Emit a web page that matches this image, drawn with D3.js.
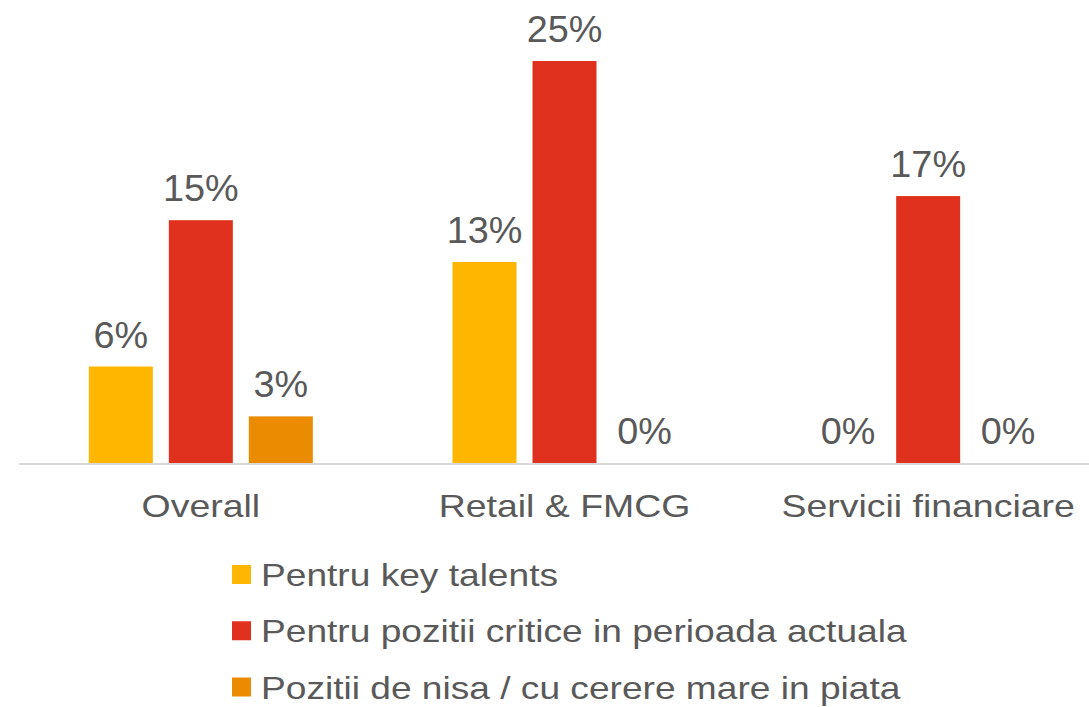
<!DOCTYPE html>
<html>
<head>
<meta charset="utf-8">
<script src="https://cdn.jsdelivr.net/npm/d3@7"></script>
<style>
  html, body { margin: 0; padding: 0; background: #ffffff; }
  svg { display: block; }
  text { font-family: "Liberation Sans", Arial, sans-serif; fill: #595959; }
</style>
</head>
<body>
<svg id="chart" width="1089" height="707"></svg>
<script>
// ---- data ----
const categories = ["Overall", "Retail & FMCG", "Servicii financiare"];
const seriesNames = [
  "Pentru key talents",
  "Pentru pozitii critice in perioada actuala",
  "Pozitii de nisa / cu cerere mare in piata"
];
const keyTalents = [6.0, 12.5, 0];
const pozitiiCritice = [15.1, 25.0, 16.6];
const pozitiiNisa = [2.9, 0, 0];
const seriesColors = ["#FFB600", "#E0301E", "#EB8C00"];

const seriesValues = [keyTalents, pozitiiCritice, pozitiiNisa];
const rows = [];
categories.forEach((c, ci) => {
  seriesValues.forEach((vals, si) => {
    rows.push({ category: c, series: seriesNames[si], si, value: vals[ci] });
  });
});

// ---- layout ----
const svg = d3.select("#chart");
const baseline = 463;
const groupW = 224;

const x0 = d3.scaleBand().domain(categories).range([19, 1110]).paddingInner(0).paddingOuter(0);
const x1 = d3.scaleBand().domain(seriesNames).range([0, groupW]).paddingInner(0.2).paddingOuter(0);
const y = d3.scaleLinear().domain([0, 25]).range([baseline, 61]);

const groupOffset = (x0.bandwidth() - groupW) / 2;

// axis baseline
svg.append("line")
  .attr("x1", 19).attr("x2", 1089)
  .attr("y1", baseline + 1).attr("y2", baseline + 1)
  .attr("stroke", "#d9d9d9").attr("stroke-width", 2);

// bars
const bx = d => x0(d.category) + groupOffset + x1(d.series);
svg.append("g").selectAll("rect")
  .data(rows.filter(d => d.value > 0))
  .join("rect")
  .attr("x", bx)
  .attr("width", x1.bandwidth())
  .attr("y", d => y(d.value))
  .attr("height", d => baseline - y(d.value))
  .attr("fill", d => seriesColors[d.si]);

// value labels
svg.append("g").selectAll("text")
  .data(rows)
  .join("text")
  .attr("transform", d => `translate(${bx(d) + x1.bandwidth() / 2},${y(d.value) - 19}) scale(1.05,1)`)
  .attr("text-anchor", "middle")
  .style("font-size", "36px")
  .text(d => Math.round(d.value) + "%");

// category labels
svg.append("g").selectAll("text")
  .data(categories)
  .join("text")
  .attr("transform", d => `translate(${x0(d) + x0.bandwidth() / 2},517) scale(1.17,1)`)
  .attr("text-anchor", "middle")
  .style("font-size", "32px")
  .text(d => d);

// legend
const legendY = d3.scalePoint().domain(seriesNames).range([586, 698.5]);
const lg = svg.append("g").selectAll("g")
  .data(seriesNames)
  .join("g");
lg.append("rect")
  .attr("x", 232).attr("y", d => legendY(d) - 21)
  .attr("width", 19).attr("height", 19)
  .attr("fill", (d, i) => seriesColors[i]);
lg.append("text")
  .attr("transform", d => `translate(261,${legendY(d)}) scale(1.16,1)`)
  .style("font-size", "32px")
  .text(d => d);
</script>
</body>
</html>
